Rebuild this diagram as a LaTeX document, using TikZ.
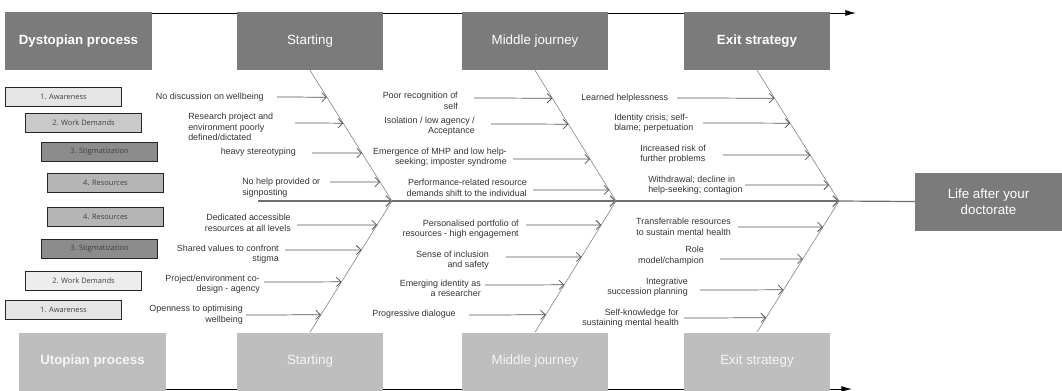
\documentclass[tikz,border=0pt]{standalone}
\usepackage{fontspec}
\setmainfont{Liberation Sans}
\newfontfamily\legendfont{Open Sans}
\usetikzlibrary{arrows.meta, calc}
\definecolor{darkBox}{HTML}{7B7B7B}
\definecolor{lightBox}{HTML}{BEBEBE}
\definecolor{boneGray}{HTML}{8C8C8C}
\definecolor{spineGray}{HTML}{707070}
\definecolor{branchGray}{HTML}{555555}
\definecolor{labelGray}{HTML}{333333}

\begin{document}
\begin{tikzpicture}[x = 0.75pt, y = -0.75pt,
		stage/.style = {minimum width = 110pt, minimum height = 43.5pt, inner sep = 0pt,
			text = white, font = \fontsize{10}{12}\selectfont},
		dystopia/.style = {stage, fill = darkBox},
		utopia/.style = {stage, fill = lightBox, text = white!96!black},
		legendbox/.style = {draw = black!85, line width = 1.15pt, minimum width = 87pt,
			minimum height = 14.5pt, inner sep = 0pt, font = \legendfont\fontsize{5.6}{6.5}\selectfont,
			text = black!75},
		lbl/.style = {inner sep = 0pt, text = labelGray, font = \fontsize{6.7}{7.9}\selectfont},
		branch/.style = {draw = branchGray, line width = 0.55pt, -{Straight Barb[length = 3.5pt, width = 7pt]}},
		bone/.style = {draw = boneGray, line width = 0.5pt},
		spine/.style = {draw = spineGray, line width = 0.9pt},
		timeline/.style = {draw = black, line width = 0.7pt, -{Latex[length = 8pt, width = 4.5pt]}}]
		\path[use as bounding box, clip] (0, 0) rectangle (1062, 390);
		%%%%%%%%%%%%%
		\coordinate (topstart) at (152, 13); \coordinate (topend) at (856, 13);
		\coordinate (botstart) at (166, 389); \coordinate (botend) at (852, 389);
		\draw [timeline] (topstart) -- (topend);
		\draw [timeline] (botstart) -- (botend);
		%%%%%%%%%%%%%
		\node [dystopia, font = \bfseries\fontsize{10}{12}\selectfont] (dys) at (78.5, 41) {Dystopian process};
		\node [dystopia] (st1) at (310, 41) {Starting};
		\node [dystopia] (mj1) at (535, 41) {Middle journey};
		\node [dystopia, font = \bfseries\fontsize{10}{12}\selectfont] (ex1) at (757, 41) {Exit strategy};
		\node [utopia, font = \bfseries\fontsize{10}{12}\selectfont] (uto) at (92.5, 361.5) {Utopian process};
		\node [utopia] (st2) at (310, 361.5) {Starting};
		\node [utopia] (mj2) at (535, 361.5) {Middle journey};
		\node [utopia] (ex2) at (757, 361.5) {Exit strategy};
		\node [dystopia, align = center] (life) at (988.5, 202) {Life after your\\doctorate};
		%%%%%%%%%%%%%
		\node [legendbox, fill = black!10] (aw1) at (63.5, 97) {1. Awareness};
		\node [legendbox, fill = black!21] (wd1) at (83.5, 123) {2. Work Demands};
		\node [legendbox, fill = black!45] (sg1) at (99.5, 152) {3. Stigmatization};
		\node [legendbox, fill = black!29] (rs1) at (105.5, 183) {4. Resources};
		\node [legendbox, fill = black!29] (rs2) at (105.5, 217) {4. Resources};
		\node [legendbox, fill = black!45] (sg2) at (99.5, 249) {3. Stigmatization};
		\node [legendbox, fill = black!7] (wd2) at (83.5, 281) {2. Work Demands};
		\node [legendbox, fill = black!10] (aw2) at (63.5, 310) {1. Awareness};
		%%%%%%%%%%%%%
		\coordinate (j1) at (392, 201); \coordinate (j2) at (616, 201);
		\coordinate (j3) at (839, 201); \coordinate (tail) at (258, 201);
		\draw [bone] (st1.south) -- (j1) -- (st2.north);
		\draw [bone] (mj1.south) -- (j2) -- (mj2.north);
		\draw [bone] (ex1.south) -- (j3) -- (ex2.north);
		\draw [spine, -{Straight Barb[length = 4pt, width = 8pt]}] (tail) -- (j1);
		\draw [spine, -{Straight Barb[length = 4pt, width = 8pt]}] (j1) -- (j2);
		\draw [spine, -{Straight Barb[length = 4pt, width = 8pt]}] (j2) -- (j3);
		\draw [spine] (j3) -- (life);
		%%%%%%%%%%%%%
		\node [lbl, anchor = east] (a1) at (264, 97) {No discussion on wellbeing};
		\node [lbl, anchor = west, align = left] (a2) at (188, 127) {Research project and\\environment poorly\\defined/dictated};
		\node [lbl, anchor = east] (a3) at (296, 152) {heavy stereotyping};
		\node [lbl, anchor = west, align = left] (a4) at (242, 187.5) {No help provided or\\signposting};
		\node [lbl, anchor = east, align = right] (a5) at (291, 223) {Dedicated accessible\\resources at all levels};
		\node [lbl, anchor = east, align = right] (a6) at (279, 254) {Shared values to confront\\stigma};
		\node [lbl, anchor = east, align = right] (a7) at (260, 284) {Project/environment co-\\design - agency};
		\node [lbl, anchor = east, align = right] (a8) at (243, 314.5) {Openness to optimising\\wellbeing};
		\foreach \y/\s [evaluate = \y as \f using (\y - 70)/131] in {97/277, 123/295, 153/312, 182/330}
			\draw [branch] (\s, \y) -- ($(st1.south)!\f!(j1)$);
		\foreach \y/\s [evaluate = \y as \f using (\y - 201)/131.5] in {225/297, 250/285, 282/264, 315/246}
			\draw [branch] (\s, \y) -- ($(j1)!\f!(st2.north)$);
		%%%%%%%%%%%%%
		\node [lbl, anchor = east, align = right] (b1) at (458, 101) {Poor recognition of\\self};
		\node [lbl, anchor = east, align = right] (b2) at (475, 126) {Isolation / low agency /\\Acceptance};
		\node [lbl, anchor = east, align = right] (b3) at (507, 157) {Emergence of MHP and low help-\\seeking; imposter syndrome};
		\node [lbl, anchor = east, align = right] (b4) at (527, 188) {Performance-related resource\\demands shift to the individual};
		\node [lbl, anchor = east, align = right] (b5) at (519, 229) {Personalised portfolio of\\resources - high engagement};
		\node [lbl, anchor = east, align = right] (b6) at (489, 260) {Sense of inclusion\\and safety};
		\node [lbl, anchor = east, align = right] (b7) at (481, 288.5) {Emerging identity as\\a researcher};
		\node [lbl, anchor = east] (b8) at (456, 314) {Progressive dialogue};
		\foreach \y/\s [evaluate = \y as \f using (\y - 70)/131] in {98/474, 124/491, 159/513, 190/533}
			\draw [branch] (\s, \y) -- ($(mj1.south)!\f!(j2)$);
		\foreach \y/\s [evaluate = \y as \f using (\y - 201)/131.5] in {225/526, 257/506, 285/485, 315/469}
			\draw [branch] (\s, \y) -- ($(j2)!\f!(mj2.north)$);
		%%%%%%%%%%%%%
		\node [lbl, anchor = west] (c1) at (581, 98) {Learned helplessness};
		\node [lbl, anchor = west, align = left] (c2) at (614, 123) {Identity crisis; self-\\blame; perpetuation};
		\node [lbl, anchor = west, align = left] (c3) at (640, 154) {Increased risk of\\further problems};
		\node [lbl, anchor = west, align = left] (c4) at (648, 185) {Withdrawal; decline in\\help-seeking; contagion};
		\node [lbl, anchor = east, align = right] (c5) at (731, 227) {Transferrable resources\\to sustain mental health};
		\node [lbl, anchor = east, align = right] (c6) at (704, 255.5) {Role\\model/champion};
		\node [lbl, anchor = east, align = right] (c7) at (688, 287) {Integrative\\succession planning};
		\node [lbl, anchor = east, align = right] (c8) at (679, 318) {Self-knowledge for\\sustaining mental health};
		\foreach \y/\s [evaluate = \y as \f using (\y - 70)/131] in {98/677, 123/703, 155/723, 185/745}
			\draw [branch] (\s, \y) -- ($(ex1.south)!\f!(j3)$);
		\foreach \y/\s [evaluate = \y as \f using (\y - 201)/131.5] in {227/738, 259/720, 290/700, 318/684}
			\draw [branch] (\s, \y) -- ($(j3)!\f!(ex2.north)$);
\end{tikzpicture}
\end{document}
